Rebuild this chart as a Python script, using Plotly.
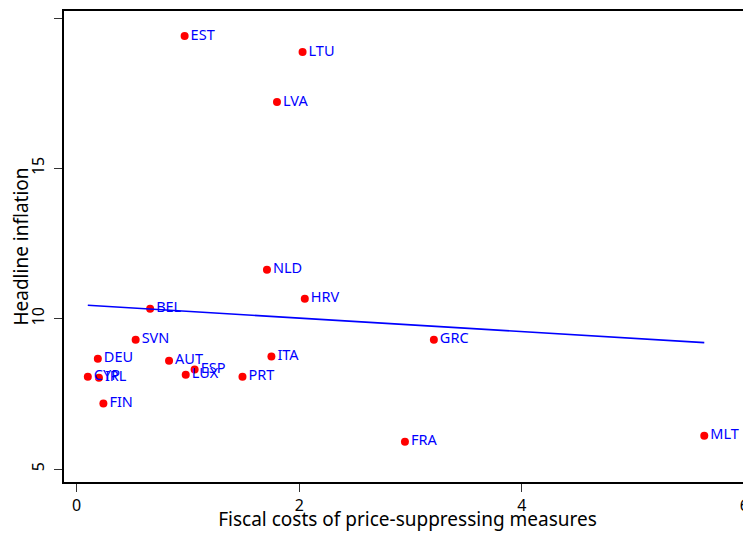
import numpy as np
import plotly.graph_objects as go

countries = ["EST", "LTU", "LVA", "NLD", "HRV", "BEL", "SVN", "GRC", "DEU", "AUT",
             "ITA", "ESP", "LUX", "PRT", "CYP", "IRL", "FIN", "FRA", "MLT"]
fiscal_costs = [0.97, 2.03, 1.80, 1.71, 2.05, 0.66, 0.53, 3.21, 0.19, 0.83,
                1.75, 1.06, 0.98, 1.49, 0.10, 0.20, 0.24, 2.95, 5.64]
inflation = [19.4, 18.87, 17.21, 11.63, 10.66, 10.33, 9.3, 9.3, 8.67, 8.6,
             8.74, 8.31, 8.14, 8.07, 8.07, 8.04, 7.18, 5.91, 6.11]

# linear fit over the observed range
slope, intercept = np.polyfit(fiscal_costs, inflation, 1)
fit_x = np.array([min(fiscal_costs), max(fiscal_costs)])
fit_y = intercept + slope * fit_x

fig = go.Figure()
fig.add_trace(go.Scatter(
    x=fiscal_costs, y=inflation, mode="markers+text", text=countries,
    textposition="middle right",
    textfont=dict(color="#0000ff", size=14.5, family="Noto Sans"),
    marker=dict(color="#ff0000", size=8),
    showlegend=False,
))
fig.add_trace(go.Scatter(
    x=fit_x, y=fit_y, mode="lines",
    line=dict(color="#0000ff", width=1.6),
    showlegend=False,
))

# the page body adds an 8px margin, so keep the figure inside the window
fig.update_layout(
    width=743, height=524,
    margin=dict(l=56, r=0, t=3, b=50, autoexpand=False),
    paper_bgcolor="white", plot_bgcolor="white",
    font=dict(family="Noto Sans", size=16, color="black"),
)
fig.update_xaxes(
    range=[-0.114, 6.06], tickvals=[0, 2, 4, 6],
    showgrid=False, zeroline=False,
    showline=True, linecolor="black", linewidth=1.5, mirror=True,
    ticks="outside", ticklen=8, tickcolor="#333", tickwidth=1.2,
    title=dict(text="Fiscal costs of price-suppressing measures", standoff=0),
)
fig.update_yaxes(
    range=[4.57, 20.233], tickvals=[5, 10, 15, 20], tickangle=-90,
    ticklabelstandoff=4,
    showgrid=False, zeroline=False,
    showline=True, linecolor="black", linewidth=1.5,
    ticks="outside", ticklen=8, tickcolor="#333", tickwidth=1.2,
    title=dict(text="Headline inflation", standoff=4),
)

fig.write_html("out.html")
